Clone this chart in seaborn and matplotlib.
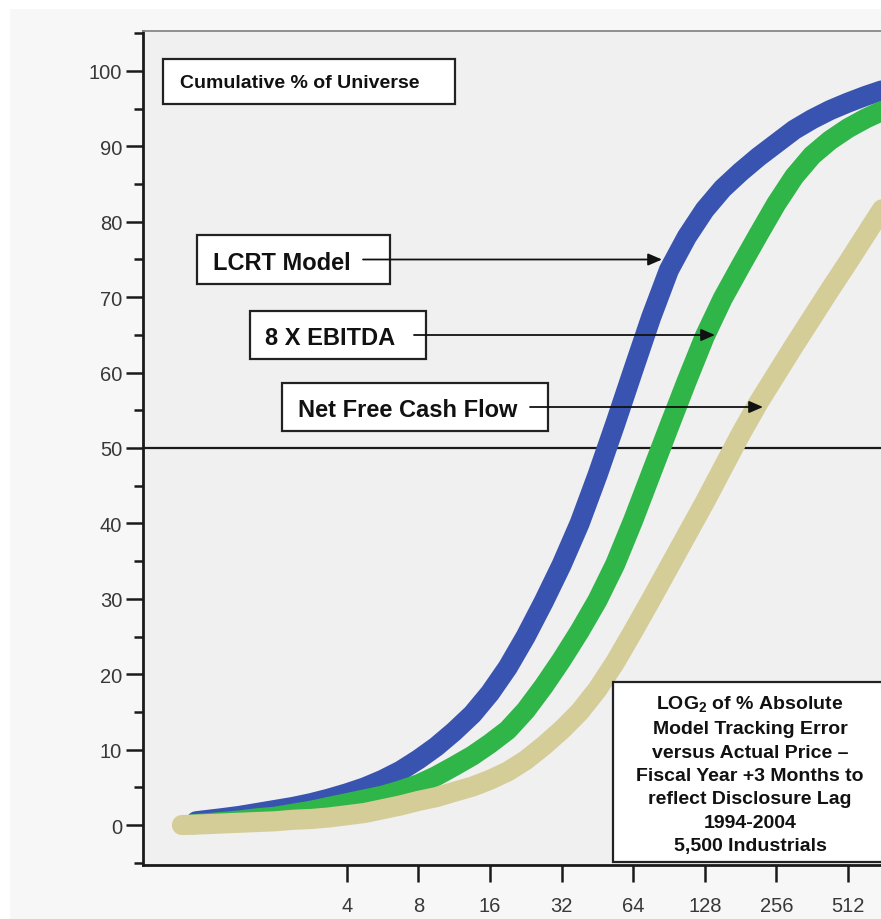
import numpy as np
import pandas as pd
import matplotlib
matplotlib.use("Agg")
import matplotlib.pyplot as plt
from matplotlib.patches import Rectangle, FancyArrowPatch
import seaborn as sns

# ---- data: cumulative % of universe vs. % absolute tracking error (log2 axis) ----
lcrt_err = [0.93, 1.19, 1.41, 1.68, 2.0, 2.38, 2.83, 3.36, 4.0, 4.76, 5.66, 6.73, 8.0,
            9.51, 11.3, 13.5, 16.0, 19.0, 22.6, 26.9, 32.0, 38.1, 45.3, 53.8, 64.0,
            76.1, 90.5, 107.6, 128, 152.2, 181, 215.3, 256, 304.4, 362, 430.5, 512,
            608.9, 724.1]
lcrt_cum = [0.5, 0.9, 1.2, 1.6, 2.0, 2.4, 2.9, 3.5, 4.2, 5.0, 6.0, 7.2, 8.7,
            10.4, 12.4, 14.7, 17.5, 20.9, 25.0, 29.6, 34.5, 40.0, 46.4, 53.2, 60.3,
            67.3, 73.6, 78.0, 81.6, 84.4, 86.6, 88.6, 90.4, 92.2, 93.6, 94.8, 95.8,
            96.7, 97.5]

ebitda_err = [0.90, 1.19, 1.41, 1.68, 2.0, 2.38, 2.83, 3.36, 4.0, 4.76, 5.66, 6.73, 8.0,
              9.51, 11.3, 13.5, 16.0, 19.0, 22.6, 26.9, 32.0, 38.1, 45.3, 53.8, 64.0,
              76.1, 90.5, 107.6, 128, 152.2, 181, 215.3, 256, 304.4, 362, 430.5, 512,
              608.9, 724.1]
ebitda_cum = [0.1, 0.4, 0.6, 0.9, 1.1, 1.5, 1.9, 2.4, 2.9, 3.4, 3.9, 4.6, 5.4,
              6.5, 7.8, 9.2, 10.8, 12.6, 15.2, 18.4, 21.9, 25.7, 29.8, 34.6, 40.4,
              46.6, 52.8, 58.9, 64.8, 69.8, 74.1, 78.3, 82.4, 86.0, 88.8, 90.8, 92.4,
              93.7, 94.8]

nfcf_err = [0.81, 1.0, 1.19, 1.41, 1.68, 2.0, 2.38, 2.83, 3.36, 4.0, 4.76, 5.66, 6.73,
            8.0, 9.51, 11.3, 13.5, 16.0, 19.0, 22.6, 26.9, 32.0, 38.1, 45.3, 53.8,
            64.0, 76.1, 90.5, 107.6, 128, 152.2, 181, 215.3, 256, 304.4, 362, 430.5,
            512, 608.9, 724.1]
nfcf_cum = [0.0, 0.1, 0.2, 0.3, 0.4, 0.5, 0.7, 0.8, 1.0, 1.3, 1.6, 2.1, 2.6,
            3.2, 3.7, 4.4, 5.1, 6.0, 7.1, 8.6, 10.5, 12.6, 15.0, 18.0, 21.6,
            25.7, 29.9, 34.2, 38.5, 42.8, 47.3, 51.8, 56.0, 59.8, 63.6, 67.3, 71.0,
            74.6, 78.3, 82.0]

series_names = ["LCRT Model", "8 X EBITDA", "Net Free Cash Flow"]
series_colors = ["#3853b0", "#2fb548", "#d5cd98"]

x_ticks = [4, 8, 16, 32, 64, 128, 256, 512]
y_major = list(range(0, 101, 10))
y_minor = list(range(-5, 106, 5))

note_lines = ["LOG$_{2}$ of % Absolute", "Model Tracking Error", "versus Actual Price \u2013",
              "Fiscal Year +3 Months to", "reflect Disclosure Lag", "1994-2004",
              "5,500 Industrials"]

frames = []
for name, xs, ys in zip(series_names,
                        [lcrt_err, ebitda_err, nfcf_err],
                        [lcrt_cum, ebitda_cum, nfcf_cum]):
    frames.append(pd.DataFrame({"error": xs, "cum": ys, "series": name}))
df = pd.concat(frames, ignore_index=True)

# ---- figure ----
sns.set_style("ticks")
plt.rcParams["font.family"] = ["Liberation Sans", "DejaVu Sans"]
plt.rcParams["mathtext.fontset"] = "custom"
plt.rcParams["mathtext.rm"] = "Liberation Sans:bold"
plt.rcParams["mathtext.it"] = "Liberation Sans:bold"
plt.rcParams["mathtext.bf"] = "Liberation Sans:bold"

W, H = 881, 920
fig = plt.figure(figsize=(W / 100, H / 100), dpi=100, facecolor="#f7f7f7")


def fx(px):
    return px / W


def fy(py):
    return 1 - py / H


# thin white margin along the top and left edges
fig.add_artist(Rectangle((0, fy(10)), 1, 10 / H, transform=fig.transFigure,
                         facecolor="white", edgecolor="none", zorder=-1))
fig.add_artist(Rectangle((0, 0), 10 / W, 1, transform=fig.transFigure,
                         facecolor="white", edgecolor="none", zorder=-1))

ax_left, ax_right, ax_top, ax_bottom = 143, 960, 32, 866
ax = fig.add_axes([fx(ax_left), fy(ax_bottom), (ax_right - ax_left) / W,
                   (ax_bottom - ax_top) / H])
ax.set_facecolor("#f0f0f0")

ax.set_xscale("log", base=2)
ax.set_xlim(2 ** -0.848, 2 ** 10.566)
ax.set_ylim(-5.3, 105.3)

ax.axhline(50, color="#1a1a1a", lw=1.6, zorder=1)

sns.lineplot(data=df, x="error", y="cum", hue="series", hue_order=series_names,
             palette=series_colors, estimator=None, sort=False, linewidth=14.5,
             solid_capstyle="round", solid_joinstyle="round", legend=False,
             ax=ax, zorder=2)

ax.set_xlabel("")
ax.set_ylabel("")

ax.set_xticks(x_ticks, [str(t) for t in x_ticks])
ax.xaxis.set_minor_locator(matplotlib.ticker.NullLocator())
ax.set_yticks(y_major, [str(t) for t in y_major])
ax.set_yticks(y_minor, minor=True)

ax.tick_params(axis="both", which="major", direction="out", length=12, width=1.8,
               color="#1a1a1a", labelsize=14.5, labelcolor="#383838")
ax.tick_params(axis="y", which="minor", direction="out", length=6.5, width=1.8,
               color="#1a1a1a")
ax.tick_params(axis="y", which="major", pad=3)
ax.tick_params(axis="x", which="major", pad=10)

for side in ["left", "bottom"]:
    ax.spines[side].set_color("#1a1a1a")
    ax.spines[side].set_linewidth(2.0)
ax.spines["top"].set_color("#888888")
ax.spines["top"].set_linewidth(1.3)
ax.spines["right"].set_visible(False)


def box(l, t, r, b):
    fig.add_artist(Rectangle((fx(l), fy(b)), (r - l) / W, (b - t) / H,
                             transform=fig.transFigure, facecolor="white",
                             edgecolor="#222222", lw=1.6, zorder=3))


def arrow(x0, x1, y):
    fig.add_artist(FancyArrowPatch((fx(x0), fy(y)), (fx(x1), fy(y)),
                                   transform=fig.transFigure,
                                   arrowstyle="-|>,head_length=0.6,head_width=0.26",
                                   mutation_scale=14, color="#111111", lw=1.3,
                                   shrinkA=0, shrinkB=0, zorder=5))


# title box
box(163, 60, 455, 105)
fig.text(fx(180), fy(88), "Cumulative % of Universe", fontsize=14, fontweight="bold",
         ha="left", va="baseline", color="#111111", zorder=4)

# series callouts
callouts = [
    ("LCRT Model", (197, 236, 390, 285), 213, 269.5, 363, 662),
    ("8 X EBITDA", (250, 312, 426, 360), 265, 345.5, 414, 715),
    ("Net Free Cash Flow", (282, 384, 548, 432), 298, 417.5, 530, 763),
]
for label, (l, t, r, b), tx, base, a0, a1 in callouts:
    box(l, t, r, b)
    fig.text(fx(tx), fy(base), label, fontsize=17, fontweight="bold", ha="left",
             va="baseline", color="#111111", zorder=4)
    arrow(a0, a1, (t + b) / 2)

# explanatory note
box(613, 683, 890, 863)
note_baselines = [709.5, 734.5, 758.5, 781.5, 804.5, 828.5, 851.5]
for line, base in zip(note_lines, note_baselines):
    fig.text(fx(750), fy(base), line, fontsize=14, fontweight="bold", ha="center",
             va="baseline", color="#111111", zorder=4)

fig.savefig("out.png", dpi=100, facecolor=fig.get_facecolor())
